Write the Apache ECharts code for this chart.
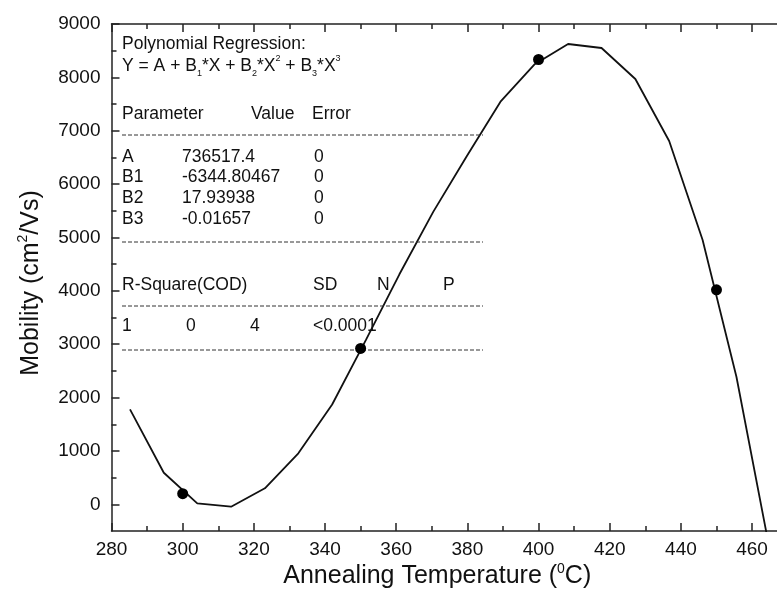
<!DOCTYPE html>
<html><head><meta charset="utf-8">
<script src="https://cdn.jsdelivr.net/npm/echarts@6/dist/echarts.min.js"></script>
<style>html,body{margin:0;padding:0;background:#fff}#c{width:777px;height:590px}</style>
</head><body><div id="c"></div>
<script>
// Fitted polynomial curve vertices
const fitX = [285.2, 294.7, 304.1, 313.6, 323.1, 332.5, 342.0, 351.5, 360.9, 370.4, 379.9, 389.3, 398.8, 408.3, 417.7, 427.2, 436.7, 446.1, 455.6, 465.1];
const fitY = [1780, 592, 19, -45, 300, 956, 1870, 3080, 4310, 5480, 6530, 7544, 8240, 8625, 8550, 7970, 6807, 4952, 2391, -905];
// Measured points
const dataX = [300, 350, 400, 450];
const dataY = [200, 2920, 8335, 4020];
// Ticks
const xMajorTicks = [280, 300, 320, 340, 360, 380, 400, 420, 440, 460];
const xMinorTicks = [290, 310, 330, 350, 370, 390, 410, 430, 450];
const yMajorTicks = [0, 1000, 2000, 3000, 4000, 5000, 6000, 7000, 8000, 9000];
const yMinorTicks = [500, 1500, 2500, 3500, 4500, 5500, 6500, 7500, 8500];
// Annotation text
const titleText = 'Polynomial Regression:';
const headerRow = ['Parameter', 'Value', 'Error'];
const paramNames = ['A', 'B1', 'B2', 'B3'];
const paramValues = ['736517.4', '-6344.80467', '17.93938', '-0.01657'];
const paramErrors = ['0', '0', '0', '0'];
const statHeader = ['R-Square(COD)', 'SD', 'N', 'P'];
const statValues = ['1', '0', '4', '<0.0001'];

const FONT = '"Liberation Sans", Arial, sans-serif';
const TXT = '#111';

const chart = echarts.init(document.getElementById('c'), null, {renderer: 'canvas'});

function pairs(xs, ys) { return xs.map((x, i) => [x, ys[i]]); }

const X_MIN = 280, X_MAX = 467, Y_MIN = -500, Y_MAX = 9000;
const axisLineStyle = {color: '#222', width: 1.5};

function xAxisDef(pos, ticks, len, showLine, showLabel) {
  return {
    type: 'value', position: pos, min: X_MIN, max: X_MAX,
    axisLine: {show: showLine, onZero: false, lineStyle: axisLineStyle},
    axisTick: {show: true, inside: true, length: len, customValues: ticks, lineStyle: {color: '#222', width: 1.5}},
    axisLabel: {show: showLabel, customValues: ticks, fontSize: 19, color: TXT, fontFamily: FONT, margin: 9,
      formatter: v => String(v)},
    splitLine: {show: false}
  };
}
function yAxisDef(ticks, len, showLine, showLabel) {
  return {
    type: 'value', position: 'left', min: Y_MIN, max: Y_MAX,
    axisLine: {show: showLine, onZero: false, lineStyle: axisLineStyle},
    axisTick: {show: true, inside: true, length: len, customValues: ticks, lineStyle: {color: '#222', width: 1.5}},
    axisLabel: {show: showLabel, customValues: ticks, fontSize: 19, color: TXT, fontFamily: FONT, margin: 11,
      formatter: v => String(v)},
    splitLine: {show: false}
  };
}

const xMain = xAxisDef('bottom', xMajorTicks, 8, true, true);
xMain.name = '{a|Annealing Temperature (}{s|0}{a|C)}';
xMain.nameLocation = 'middle';
xMain.nameGap = 31;
xMain.nameMoveOverlap = false;
xMain.nameTextStyle = {padding: [0, 14, 0, 0], rich: {
  a: {fontSize: 25, fontFamily: FONT, color: TXT, lineHeight: 29},
  s: {fontSize: 14, fontFamily: FONT, color: TXT, verticalAlign: 'top'}
}};

const yMain = yAxisDef(yMajorTicks, 8, true, true);
yMain.name = '{a|Mobility (cm}{s|2}{a|/Vs)}';
yMain.nameLocation = 'middle';
yMain.nameGap = 66;
yMain.nameMoveOverlap = false;
yMain.nameTextStyle = {padding: [0, 11, 0, 0], rich: {
  a: {fontSize: 25, fontFamily: FONT, color: TXT, lineHeight: 29},
  s: {fontSize: 14, fontFamily: FONT, color: TXT, verticalAlign: 'top'}
}};

// Annotation graphics
const g = [];
const AF = '17.5px ' + FONT;
function txt(x, y, s) {
  g.push({type: 'text', x: x, y: y, z: 5, style: {text: s, font: AF, fill: TXT, verticalAlign: 'middle', align: 'left'}});
}
function dash(y) {
  g.push({type: 'line', z: 4, shape: {x1: 122, y1: y, x2: 483, y2: y}, style: {stroke: '#333', lineWidth: 1, lineDash: [4, 2]}});
}
txt(122, 44, titleText);
g.push({type: 'text', x: 122, y: 66, z: 5, style: {
  text: '{n|Y = A + B}{b|1}{n|*X + B}{b|2}{n|*X}{t|2}{n| + B}{b|3}{n|*X}{t|3}',
  verticalAlign: 'middle', align: 'left',
  rich: {
    n: {font: AF, fill: TXT, color: TXT, lineHeight: 24},
    b: {font: '9px ' + FONT, fill: TXT, color: TXT, verticalAlign: 'bottom'},
    t: {font: '9px ' + FONT, fill: TXT, color: TXT, verticalAlign: 'top'}
  }
}});
const hdrX = [122, 251, 312];
headerRow.forEach((s, i) => txt(hdrX[i], 114, s));
dash(135);
const rowY = [157, 177, 198, 219];
paramNames.forEach((s, i) => { txt(122, rowY[i], s); txt(182, rowY[i], paramValues[i]); txt(314, rowY[i], paramErrors[i]); });
dash(242);
const stX = [122, 313, 377, 443];
statHeader.forEach((s, i) => txt(stX[i], 285, s));
dash(306);
const svX = [122, 186, 250, 313];
statValues.forEach((s, i) => txt(svX[i], 326, s));
dash(350);

chart.setOption({
  backgroundColor: '#fff',
  animation: false,
  grid: {left: 111.5, top: 24, right: 0, bottom: 59, containLabel: false, outerBoundsMode: 'none'},
  xAxis: [
    xMain,
    xAxisDef('bottom', xMinorTicks, 5, false, false),
    xAxisDef('top', xMajorTicks, 8, true, false),
    xAxisDef('top', xMinorTicks, 5, false, false)
  ],
  yAxis: [
    yMain,
    yAxisDef(yMinorTicks, 5, false, false)
  ],
  graphic: g,
  series: [
    {type: 'line', xAxisIndex: 0, yAxisIndex: 0, data: pairs(fitX, fitY), showSymbol: false, symbol: 'none',
     lineStyle: {color: '#111', width: 1.8}, clip: true, z: 3},
    {type: 'scatter', xAxisIndex: 0, yAxisIndex: 0, data: pairs(dataX, dataY), symbol: 'circle', symbolSize: 11,
     itemStyle: {color: '#000', opacity: 1}, z: 6}
  ]
});
</script></body></html>
